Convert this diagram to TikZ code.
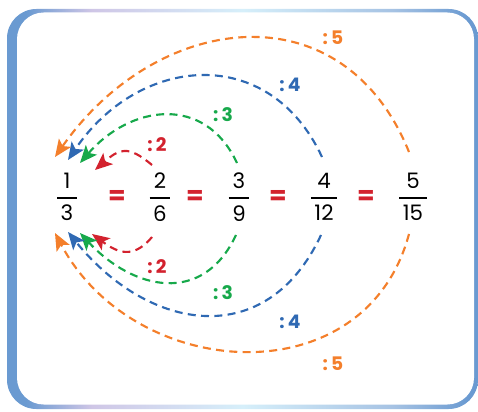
\documentclass[tikz,border=0pt]{standalone}
\usepackage{amsmath}
\usepackage{fontspec}
\setmainfont{Poppins}
\usetikzlibrary{arrows.meta, calc}

\definecolor{rimblue}{HTML}{6A9AD1}
\definecolor{rimlav}{HTML}{CFC6E6}
\definecolor{rimcyan}{HTML}{D6EFFA}
\definecolor{arcorange}{HTML}{F47F2B}
\definecolor{arcblue}{HTML}{2F69B3}
\definecolor{arcgreen}{HTML}{17A94B}
\definecolor{arcred}{HTML}{D3222E}

\pgfdeclarehorizontalshading{rim}{100bp}{color(0bp)=(rimblue); color(27bp)=(rimblue);
  color(34bp)=(rimlav); color(50bp)=(rimcyan); color(66bp)=(rimblue!60!white);
  color(74bp)=(rimblue); color(100bp)=(rimblue)}

\newcommand\fracpair[2]{$\genfrac{}{}{1.5pt}{0}{\text{\,#1\,}}{\text{\,#2\,}}$}

\begin{document}
\begin{tikzpicture}[
    x=0.75pt, y=0.75pt,
    frac/.style={inner sep=0pt, font=\fontsize{16}{19}\selectfont},
    eq/.style={inner sep=0pt, text=arcred, font=\fontsize{19}{19}\selectfont\bfseries},
    lbl/.style={inner sep=0pt, font=\fontsize{14}{14}\selectfont\bfseries},
    hop/.style={line width=1.6pt, dash pattern=on 6pt off 4pt, -{Stealth[length=13pt, width=11pt, inset=3pt]}}
]
\useasboundingbox (0,0) rectangle (478,411);

% ================= FRAME =================
\shade[shading=rim, rounded corners=22pt] (7,2) rectangle (478,402);
\fill[white, rounded corners=20pt] (17,6.5) rectangle (474,398.5);

% ================= FRACTIONS =================
\node[frac] (f1) at (67,214) {\fracpair{1}{3}};
\node[frac] (f2) at (160,214) {\fracpair{2}{6}};
\node[frac] (f3) at (239,214) {\fracpair{3}{9}};
\node[frac] (f4) at (324,214) {\fracpair{4}{12}};
\node[frac] (f5) at (413,214) {\fracpair{5}{15}};

\node[eq] (e1) at (117,214) {=};
\node[eq] (e2) at (195,214) {=};
\node[eq] (e3) at (278,214) {=};
\node[eq] (e4) at (366,214) {=};

% arrow ends beside 1/3
\coordinate (tu2) at (95,241);
\coordinate (tu3) at (80,248);
\coordinate (tu4) at (68,251);
\coordinate (tu5) at (55,254);
\coordinate (tl2) at (92,177);
\coordinate (tl3) at (80,178);
\coordinate (tl4) at (68,179);
\coordinate (tl5) at (55,178);

% ================= UPPER ARCS =================
\draw[hop, arcred] ($(f2)+(-8,32)$) to[out=140, in=41, looseness=1.43] (tu2);
\draw[hop, arcgreen] ($(f3)+(-2,34)$) to[out=115, in=49, looseness=1.25] (tu3);
\draw[hop, arcblue] ($(f4)+(-2,40)$) to[out=115, in=56, looseness=1.27] (tu4);
\draw[hop, arcorange] ($(f5)+(-4,45)$) to[out=112, in=55, looseness=1.28] (tu5);

\node[lbl, arcred] (d2u) at (157,266) {:\,2};
\node[lbl, arcgreen] (d3u) at (223,296) {:\,3};
\node[lbl, arcblue] (d4u) at (290,326) {:\,4};
\node[lbl, arcorange] (d5u) at (333,373) {:\,5};

% ================= LOWER ARCS =================
\draw[hop, arcred] ($(f2)+(-8,-40)$) to[out=230, in=-36, looseness=1.3] (tl2);
\draw[hop, arcgreen] ($(f3)+(-3,-38)$) to[out=245, in=-47, looseness=1.28] (tl3);
\draw[hop, arcblue] ($(f4)+(-3,-38)$) to[out=245, in=-51, looseness=1.3] (tl4);
\draw[hop, arcorange] ($(f5)+(-4,-37)$) to[out=255, in=-62, looseness=1.22] (tl5);

\node[lbl, arcred] (d2l) at (157,144) {:\,2};
\node[lbl, arcgreen] (d3l) at (223,118) {:\,3};
\node[lbl, arcblue] (d4l) at (290,89) {:\,4};
\node[lbl, arcorange] (d5l) at (333,47) {:\,5};

\end{tikzpicture}
\end{document}
